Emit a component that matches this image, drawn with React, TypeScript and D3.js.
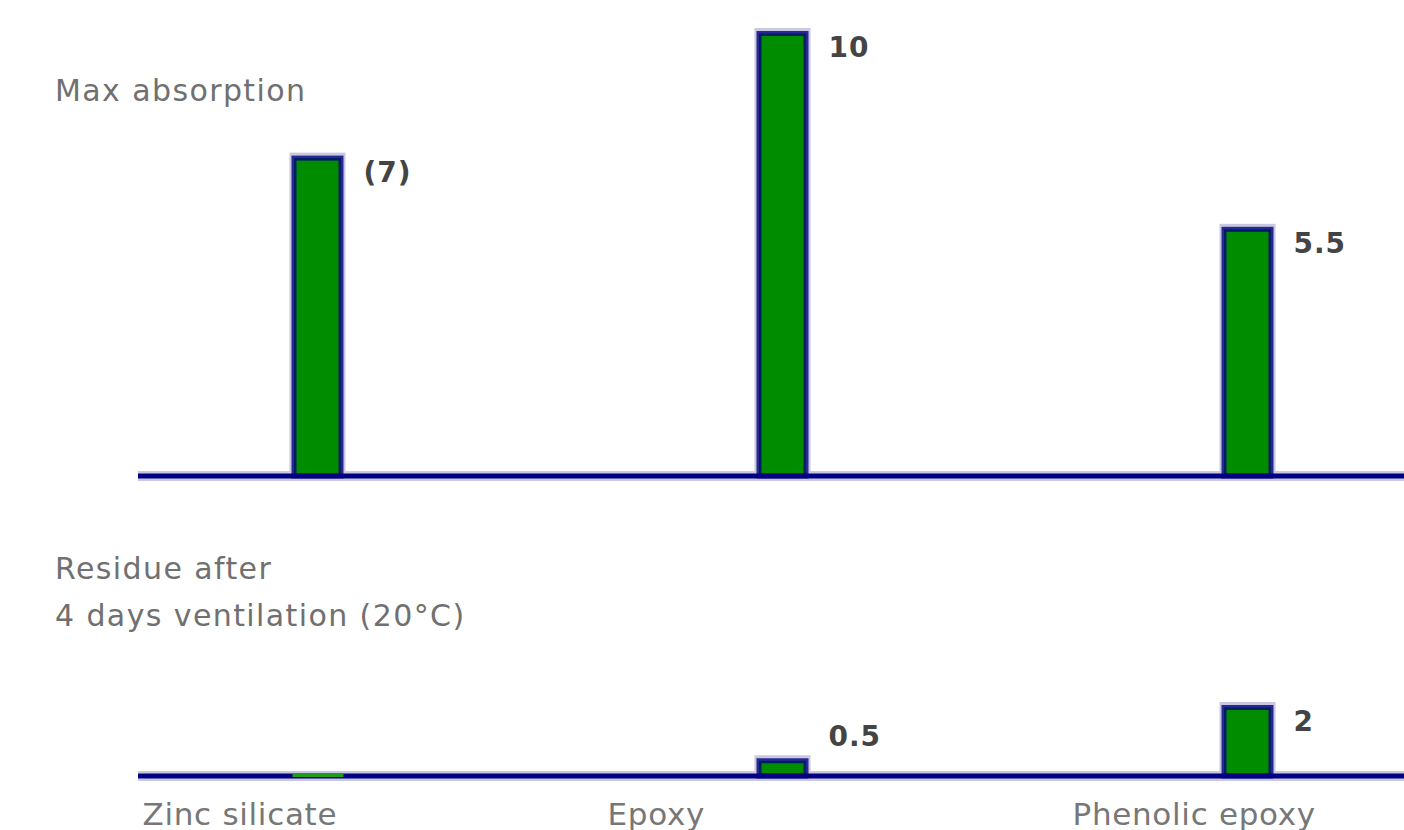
import React from "react";
import * as d3 from "d3";

const categories = ["Zinc silicate", "Epoxy", "Phenolic epoxy"];
const maxAbsorption = [7.2, 10, 5.6];
const maxAbsorptionLabels = ["(7)", "10", "5.5"];
const residue = [0, 0.5, 2];
const residueLabels = ["", "0.5", "2"];
const panelTitles = [["Max absorption"], ["Residue after", "4 days ventilation (20°C)"]];

const W = 1404;
const H = 830;
const NAVY = "#000080";
const GREEN = "#008c00";
const HALO = "#c8c8e2";
const FONT = "'DejaVu Sans', Verdana, sans-serif";

export default function App() {
  const x = d3.scalePoint<string>().domain(categories).range([317.5, 1247.5]);
  const barW = 52;
  const sw = 5;
  const axisX0 = 138;

  const panels = [
    {
      values: maxAbsorption,
      labels: maxAbsorptionLabels,
      y: d3.scaleLinear().domain([0, 10]).range([476, 31]),
      titleY: 101,
    },
    {
      values: residue,
      labels: residueLabels,
      y: d3.scaleLinear().domain([0, 2]).range([776, 705]),
      titleY: 579,
    },
  ];

  return (
    <svg
      width={W}
      height={H}
      style={{ position: "absolute", left: 0, top: 0, background: "#fff" }}
    >
      {panels.map((p, pi) => {
        const base = p.y(0);
        return (
          <g key={pi}>
            {panelTitles[pi].map((t, ti) => (
              <text
                key={ti}
                x={55}
                y={p.titleY + ti * 47}
                fontFamily={FONT}
                fontSize={30}
                letterSpacing={1.4}
                fill="#707070"
              >
                {t}
              </text>
            ))}
            {categories.map((c, i) => {
              const v = p.values[i];
              const cx = x(c)!;
              const top = p.y(v);
              const h = base - top;
              return h > 0 ? (
                <rect
                  key={c}
                  x={cx - barW / 2 - 2}
                  y={top - 3}
                  width={barW + 4}
                  height={h + 3}
                  fill={HALO}
                />
              ) : null;
            })}
            <rect x={axisX0} y={base - 5} width={W - axisX0} height={10} fill={HALO} />
            {categories.map((c, i) => {
              const v = p.values[i];
              const cx = x(c)!;
              const top = p.y(v);
              const h = base - top;
              return h > 0 ? (
                <rect
                  key={c}
                  x={cx - barW / 2 + sw / 2}
                  y={top + sw / 2}
                  width={barW - sw}
                  height={h - sw / 2}
                  fill={GREEN}
                  stroke={NAVY}
                  strokeWidth={sw}
                  strokeOpacity={0.8}
                />
              ) : null;
            })}
            <line
              x1={axisX0}
              x2={W}
              y1={base}
              y2={base}
              stroke={NAVY}
              strokeWidth={5}
            />
            {categories.map((c, i) => {
              const v = p.values[i];
              const cx = x(c)!;
              const top = p.y(v);
              return (
                <g key={c}>
                  {v === 0 && (
                    <line
                      x1={cx - barW / 2 + 1}
                      x2={cx + barW / 2}
                      y1={base - 1}
                      y2={base - 1}
                      stroke="#1aa01a"
                      strokeWidth={4}
                    />
                  )}
                  {p.labels[i] && (
                    <text
                      x={cx + barW / 2 + 20}
                      y={Math.min(top + 26, base - 30)}
                      fontFamily={FONT}
                      fontSize={28}
                      fontWeight="bold"
                      letterSpacing={1}
                      fill="#444"
                    >
                      {p.labels[i]}
                    </text>
                  )}
                </g>
              );
            })}
          </g>
        );
      })}
      {categories.map((c) => (
        <text
          key={c}
          x={x(c)! - 175}
          y={825}
          fontFamily={FONT}
          fontSize={31}
          letterSpacing={0.7}
          fill="#777"
        >
          {c}
        </text>
      ))}
    </svg>
  );
}
